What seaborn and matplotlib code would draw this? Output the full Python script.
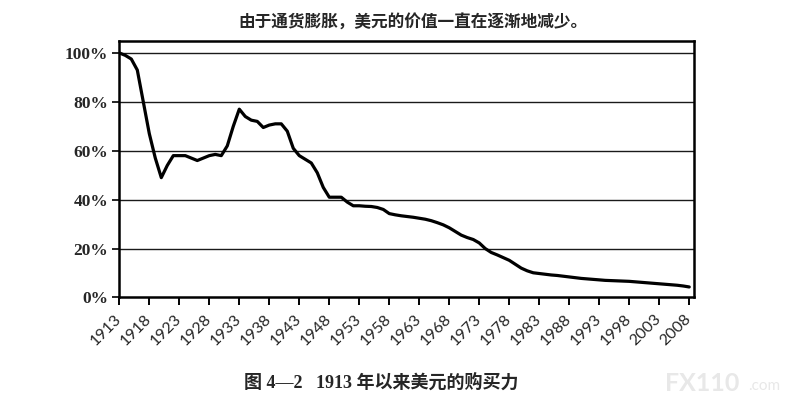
import matplotlib
matplotlib.use("Agg")
import matplotlib.pyplot as plt
import seaborn as sns
import pandas as pd

# ---- data ----
years = list(range(1913, 2009))
purchasing_power = [
    100, 99, 97.5, 93, 80, 67, 57, 49, 54, 58,      # 1913-1922
    58, 58, 57, 56, 57, 58, 58.5, 58, 62, 70,       # 1923-1932
    77, 74, 72.5, 72, 69.5, 70.5, 71, 71, 68, 61,   # 1933-1942
    58, 56.5, 55, 51, 45, 41, 41, 41, 39, 37.5,     # 1943-1952
    37.5, 37.3, 37.2, 36.8, 36, 34.3, 33.8, 33.4, 33.1, 32.8,  # 1953-1962
    32.4, 32, 31.4, 30.6, 29.7, 28.5, 27, 25.5, 24.5, 23.7,    # 1963-1972
    22.3, 20, 18.4, 17.4, 16.3, 15.2, 13.6, 12, 10.9, 10.1,    # 1973-1982
    9.8, 9.5, 9.2, 9.0, 8.7, 8.4, 8.1, 7.8, 7.6, 7.4,          # 1983-1992
    7.2, 7.0, 6.9, 6.8, 6.7, 6.6, 6.4, 6.2, 6.0, 5.8,          # 1993-2002
    5.6, 5.4, 5.2, 5.0, 4.7, 4.3,                              # 2003-2008
]
x_ticks = list(range(1913, 2009, 5))
y_ticks = [0, 20, 40, 60, 80, 100]
y_tick_labels = ["0%", "20%", "40%", "60%", "80%", "100%"]
title_text = "由于通货膨胀，美元的价值一直在逐渐地减少。"
caption_text = "图 4—2   1913 年以来美元的购买力"

df = pd.DataFrame({"year": years, "value": purchasing_power})

sns.set_style("white")
plt.rcParams["font.family"] = ["Liberation Serif", "Noto Sans CJK SC", "DejaVu Sans"]

fig = plt.figure(figsize=(7.98, 4.11), dpi=100)
ax = fig.add_axes([0.1495, 0.2762, 0.8697 - 0.1495, 0.901 - 0.2762])

sns.lineplot(data=df, x="year", y="value", ax=ax, color="black", linewidth=2.3)

ax.set_xlim(1913, 2008.8)
ax.set_ylim(0, 105)
ax.set_xticks(x_ticks)
ax.set_xticklabels([str(t) for t in x_ticks], rotation=45, ha="right",
                   va="center", rotation_mode="anchor",
                   fontsize=11.5, family=["Lato", "DejaVu Sans"])
ax.set_yticks(y_ticks)
ax.set_yticklabels(y_tick_labels, fontsize=12.5, fontweight="bold",
                   family=["Liberation Serif"])
ax.set_xlabel("")
ax.set_ylabel("")

ax.tick_params(axis="x", direction="out", length=6, width=1.4, color="black",
               pad=8, bottom=True)
ax.tick_params(axis="y", direction="out", length=5, width=1.2, color="black",
               pad=3, left=True)

for y in y_ticks[1:]:
    ax.axhline(y, color="#1a1a1a", linewidth=1.0, zorder=0)

for s in ax.spines.values():
    s.set_visible(True)
    s.set_color("black")
    s.set_linewidth(1.8)

fig.text(0.517, 0.946, title_text, ha="center", va="center", fontsize=12,
         family=["Noto Sans CJK SC"], fontweight="bold")
fig.text(0.478, 0.068, caption_text, ha="center", va="center", fontsize=13,
         fontweight="bold", family=["Liberation Serif", "Noto Sans CJK SC"])

# watermark
fig.text(0.833, 0.068, "FX110", ha="left", va="center", fontsize=18,
         fontweight="bold", color="#e8e8e8", family=["Lato", "DejaVu Sans"])
fig.text(0.937, 0.060, ".com", ha="left", va="center", fontsize=11,
         color="#e8e8e8", family=["Lato", "DejaVu Sans"])

fig.savefig("out.png", dpi=100)
